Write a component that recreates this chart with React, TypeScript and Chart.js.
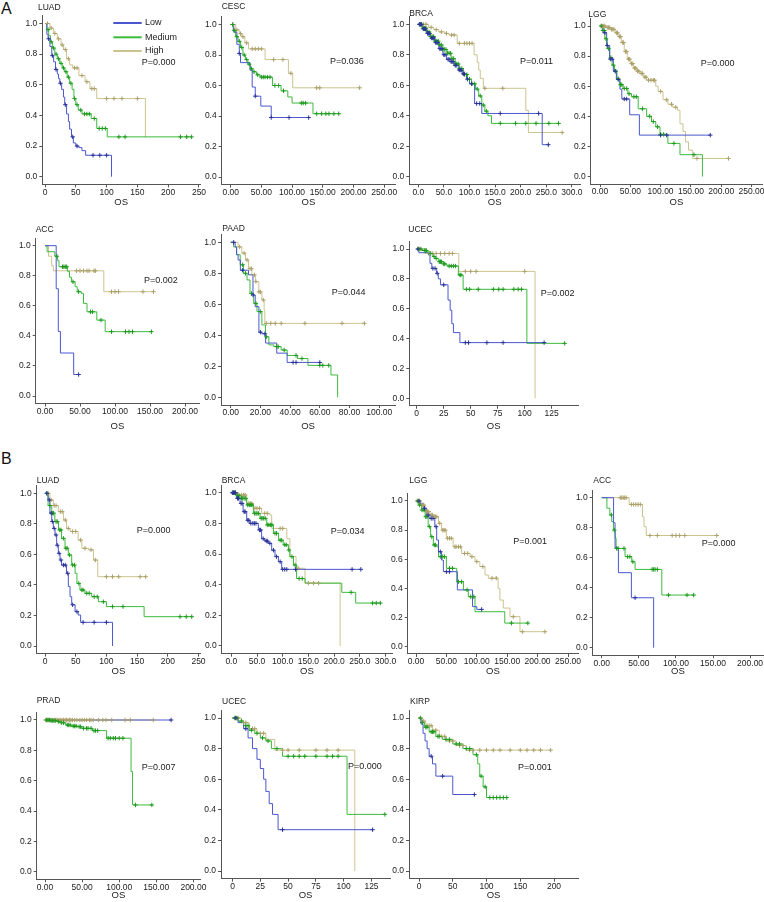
import React, { useEffect, useRef } from 'react';
import { Chart, registerables } from 'chart.js';
Chart.register(...registerables);

const FONT = '"Liberation Sans", Arial, Helvetica, sans-serif';
const TEXT = '#222222';
const AXIS = '#555555';
const LINE_COLORS = ['#4b57cf', '#3dbb3d', '#cdc38f'];
const CROSS_COLORS = ['#2b3496', '#1f9a1f', '#aca16a'];
const SERIES_NAMES = ['Low', 'Medium', 'High'];
const Y_TICKS = [0, 0.2, 0.4, 0.6, 0.8, 1.0];

// ---------- A: LUAD ----------
const aLuadLow = [[0,1],[3,0.93],[5,0.9],[8,0.85],[11,0.79],[14,0.75],[17,0.7],[20,0.67],[22,0.64],[24,0.61],[27,0.57],[30,0.52],[32,0.47],[35,0.41],[38,0.36],[40,0.31],[43,0.26],[46,0.22],[50,0.2],[55,0.19],[60,0.17],[66,0.14],[108,0]];
const aLuadLowC = [6,12,18,25,33,45,52,78,89,100];
const aLuadMed = [[0,1],[3,0.96],[6,0.92],[9,0.88],[12,0.84],[16,0.8],[20,0.77],[24,0.74],[28,0.71],[32,0.685],[36,0.65],[40,0.61],[44,0.57],[47,0.51],[50,0.47],[54,0.435],[60,0.41],[75,0.38],[84,0.315],[101,0.26],[238,0.26]];
const aLuadMedC = [5,10,14,18,22,26,30,34,38,42,48,52,58,64,68,72,80,88,93,98,120,130,220,230,238];
const aLuadHigh = [[0,1],[8,0.97],[14,0.935],[20,0.9],[26,0.86],[30,0.83],[35,0.77],[40,0.73],[45,0.71],[55,0.66],[65,0.62],[73,0.575],[84,0.51],[163,0.255]];
const aLuadHighC = [4,10,16,22,28,33,38,48,52,60,68,76,80,100,112,125,150];
const aLuadX = [0,50,100,150,200,250];

// ---------- A: CESC ----------
const aCescLow = [[0,1],[5,0.95],[10,0.87],[14,0.81],[16,0.75],[31.5,0.7],[35,0.59],[40,0.53],[49,0.465],[66,0.39],[127,0.39]];
const aCescLowC = [14,40,66,95,127];
const aCescMed = [[0,1],[4,0.96],[8,0.92],[12,0.89],[16,0.85],[20,0.8],[24,0.77],[28,0.74],[32,0.71],[36,0.69],[42,0.67],[48,0.655],[68,0.6],[82,0.565],[93,0.525],[100,0.485],[134,0.415],[176,0.415]];
const aCescMedC = [3,6,10,14,18,22,26,30,34,38,44,50,53,56,60,64,72,78,86,115,118,122,140,148,155,160,168,176];
const aCescHigh = [[0,1],[8,0.965],[14,0.94],[18,0.92],[23,0.88],[29,0.84],[56,0.77],[94,0.68],[101,0.585],[210,0.585]];
const aCescHighC = [4,10,16,20,26,35,40,45,50,70,85,98,140,145,210];
const aCescX = [0,50,100,150,200,250];

// ---------- A: BRCA ----------
const aBrcaLow = [[0,1],[8,0.97],[16,0.94],[24,0.91],[32,0.88],[40,0.84],[48,0.8],[55,0.77],[62,0.755],[70,0.73],[78,0.7],[86,0.675],[94,0.64],[100,0.61],[110,0.48],[124,0.415],[242,0.21],[254,0.21]];
const aBrcaLowC = [2,4,6,10,12,14,18,20,22,26,28,30,34,36,38,42,44,46,50,52,58,60,64,66,68,72,74,80,82,84,88,90,96,104,114,120,160,235,254];
const aBrcaMed = [[0,1],[8,0.975],[16,0.95],[24,0.92],[32,0.89],[40,0.865],[48,0.835],[56,0.81],[64,0.775],[72,0.74],[80,0.71],[88,0.67],[96,0.64],[104,0.61],[112,0.575],[118,0.53],[124,0.47],[130,0.43],[136,0.4],[143,0.35],[274,0.35]];
const aBrcaMedC = [3,6,9,12,15,18,21,24,27,30,33,36,39,42,45,48,51,54,57,60,63,66,69,72,75,78,81,85,90,95,100,105,110,115,121,127,133,160,190,210,230,255,274];
const aBrcaHigh = [[0,1],[20,0.98],[30,0.965],[40,0.95],[52,0.94],[60,0.93],[76,0.875],[109,0.8],[115,0.75],[118,0.7],[121,0.645],[127,0.58],[210,0.435],[215,0.29],[281,0.29]];
const aBrcaHighC = [5,10,15,25,35,45,55,65,70,80,90,95,100,105,130,165,281];
const aBrcaX = [0,50,100,150,200,250,300];

// ---------- A: LGG ----------
const aLggLow = [[0,1],[5,0.955],[11,0.87],[16,0.78],[22,0.7],[27,0.645],[33,0.58],[36,0.515],[49,0.41],[65,0.275],[182,0.275]];
const aLggLowC = [8,12,17,20,25,30,40,44,100,110,182];
const aLggMed = [[0,1],[4,0.97],[8,0.915],[12,0.85],[16,0.79],[20,0.74],[24,0.7],[28,0.65],[32,0.61],[38,0.585],[46,0.55],[52,0.53],[63,0.45],[77,0.4],[85,0.365],[92,0.33],[99,0.28],[112,0.22],[132,0.145],[169,0]];
const aLggMedC = [2,5,7,10,14,18,22,26,30,34,36,40,44,48,56,60,70,82,88,95,100,105,122,155];
const aLggHigh = [[0,1],[10,0.99],[17,0.978],[25,0.955],[30,0.93],[35,0.89],[40,0.83],[45,0.78],[50,0.75],[55,0.72],[60,0.7],[66,0.685],[72,0.66],[77,0.64],[92,0.6],[96,0.565],[104,0.51],[112,0.48],[120,0.46],[128,0.44],[132,0.35],[137,0.3],[141,0.23],[146,0.175],[153,0.12],[212,0.12]];
const aLggHighC = [2,4,6,8,12,14,16,19,21,23,27,29,32,34,37,39,42,44,47,49,52,54,57,59,62,64,68,70,74,76,80,84,88,90,100,110,118,125,160,212];
const aLggX = [0,50,100,150,200,250];

// ---------- A: ACC ----------
const aAccLow = [[0,1],[16,0.714],[19,0.429],[22,0.286],[41,0.143],[48,0.143]];
const aAccLowC = [48];
const aAccMed = [[0,1],[3,0.96],[14,0.93],[18,0.9],[20,0.86],[32,0.83],[35,0.79],[38,0.76],[43,0.727],[46,0.694],[52,0.683],[55,0.616],[60,0.56],[74,0.505],[86,0.428],[152,0.428]];
const aAccMedC = [17,25,27,29,31,40,48,65,68,80,95,115,120,125,152];
const aAccHigh = [[0,1],[5,0.93],[9.5,0.866],[12,0.833],[84,0.694],[155,0.694]];
const aAccHighC = [45,50,55,60,63,70,72,95,100,105,140,155];
const aAccX = [0,50,100,150,200];

// ---------- A: PAAD ----------
const aPaadLow = [[0,1],[3,0.97],[4,0.92],[5,0.886],[6.5,0.82],[12,0.79],[15,0.66],[16.5,0.585],[19,0.42],[21,0.41],[23.5,0.35],[31,0.285],[38,0.225],[60,0.225]];
const aPaadLowC = [2,8,15,20,23,42,44,60];
const aPaadMed = [[0,1],[2,0.97],[4,0.92],[6.4,0.855],[8.6,0.8],[11,0.757],[13,0.67],[15.5,0.606],[17.7,0.553],[21,0.467],[23.4,0.39],[25.7,0.338],[29,0.327],[34,0.305],[38,0.27],[45,0.25],[52,0.206],[67.5,0.144],[72,0]];
const aPaadMedC = [8,10,14,17,20,24,31,32,36,44,48,60,62,66];
const aPaadHigh = [[0,1],[5,0.97],[7.5,0.93],[10,0.886],[12,0.83],[14.3,0.79],[16.6,0.746],[18.9,0.68],[21,0.628],[22.5,0.563],[23,0.477],[90,0.477]];
const aPaadHighC = [6,9,11,13,14,16,17,19,20,22,24,27,30,34,50,75,90];
const aPaadX = [0,20,40,60,80,100];

// ---------- A: UCEC ----------
const aUcecLow = [[0,1],[2,0.975],[11,0.96],[12.3,0.904],[14,0.87],[18.5,0.837],[20,0.8],[22,0.76],[29,0.658],[31,0.59],[32.5,0.5],[34,0.44],[40,0.373],[118,0.373]];
const aUcecLowC = [1,15,17,19,25,45,48,65,80,118];
const aUcecMed = [[0,1],[5,0.99],[10,0.982],[12.3,0.97],[15,0.95],[17,0.937],[20,0.915],[24.7,0.9],[28,0.886],[38.6,0.826],[43,0.73],[102,0.368],[137,0.368]];
const aUcecMedC = [2,4,7,8,9,13,16,18,21,22,23,25,26,30,32,34,36,40,41,46,49,57,71,76,80,90,94,97,137];
const aUcecHigh = [[0,1],[7.7,0.97],[39,0.85],[109.6,0]];
const aUcecHighC = [2,3,12,15,18,22,26,30,33,45,50,55,100];
const aUcecX = [0,25,50,75,100,125];

// ---------- B: LUAD ----------
const bLuadLow = [[0,1],[5,0.956],[8,0.87],[11,0.815],[13.6,0.77],[16.3,0.727],[19,0.66],[21.7,0.607],[24.5,0.563],[27,0.53],[35,0.476],[38,0.39],[40.8,0.323],[43.5,0.27],[49,0.225],[54,0.203],[58,0.155],[110,0]];
const bLuadLowC = [3,7,10,12,15,18,20,23,26,30,33,37,45,52,62,80,100];
const bLuadMed = [[0,1],[5,0.92],[11,0.87],[16,0.815],[22,0.76],[27,0.705],[32.6,0.64],[38,0.596],[43.5,0.53],[49,0.476],[52,0.41],[57,0.367],[65,0.345],[76,0.323],[87,0.29],[100,0.258],[161.4,0.192],[239,0.192]];
const bLuadMedC = [3,8,12,14,18,20,24,26,30,34,36,40,45,48,55,60,62,68,72,80,85,95,110,127,220,230,239];
const bLuadHigh = [[0,1],[8,0.956],[13.6,0.92],[21.7,0.88],[30,0.825],[35,0.77],[41,0.75],[54,0.694],[60,0.64],[71,0.63],[79,0.563],[86,0.454],[164,0.454]];
const bLuadHighC = [5,10,15,18,25,28,33,38,45,50,58,65,75,82,100,110,120,155,164];
const bLuadX = [0,50,100,150,200,250];

// ---------- B: BRCA ----------
const bBrcaLow = [[0,1],[10,0.963],[17,0.93],[23,0.876],[30,0.82],[36,0.8],[52.6,0.757],[59,0.7],[65,0.685],[72,0.67],[78.6,0.625],[85,0.583],[91.6,0.55],[98,0.5],[252,0.5]];
const bBrcaLowC = [2,4,6,8,12,14,19,21,25,27,32,34,38,42,45,48,55,57,62,68,70,75,82,88,95,100,104,108,125,235,252];
const bBrcaMed = [[0,1],[10,0.98],[17,0.963],[30,0.92],[43,0.865],[56,0.833],[69,0.79],[82,0.735],[92,0.69],[101,0.66],[111,0.626],[114,0.583],[121,0.528],[127,0.44],[143.5,0.41],[215,0.35],[242,0.28],[290,0.28]];
const bBrcaMedC = [3,5,8,12,15,20,22,25,28,32,35,38,40,45,48,50,53,58,60,63,66,70,73,76,79,85,88,95,98,104,107,112,118,124,132,138,233,275,282,290];
const bBrcaHigh = [[0,1],[10,0.99],[17,0.985],[30,0.93],[43,0.898],[59,0.865],[75,0.854],[78.6,0.767],[108,0.7],[114,0.583],[126,0.507],[143.5,0.41],[211.7,0]];
const bBrcaHighC = [5,8,13,20,24,27,34,37,40,46,50,55,65,70,95,100,130,150,160,170];
const bBrcaX = [0,50,100,150,200,250,300];

// ---------- B: LGG ----------
const bLggLow = [[0,1],[7,0.984],[12,0.95],[17.5,0.904],[23,0.88],[31,0.824],[34,0.732],[37,0.652],[42,0.595],[45,0.515],[68,0.39],[93,0.275],[100,0.256],[108,0.256]];
const bLggLowC = [5,14,20,25,28,33,40,50,55,108];
const bLggMed = [[0,1],[4,0.972],[9,0.938],[15,0.892],[20,0.824],[24,0.755],[28.5,0.698],[34,0.686],[37,0.618],[50,0.538],[67,0.446],[78,0.39],[86,0.343],[97,0.24],[146,0.162],[184,0.162]];
const bLggMedC = [3,6,10,13,16,18,22,26,30,32,40,44,47,55,60,70,75,84,90,95,157,184];
const bLggHigh = [[0,1],[7,0.972],[15,0.927],[23,0.904],[28.5,0.892],[37,0.847],[42,0.8],[50,0.744],[61,0.686],[75,0.64],[89,0.618],[97,0.584],[105,0.55],[113.5,0.492],[119,0.47],[135,0.4],[138,0.32],[143.6,0.265],[154.6,0.206],[171,0.103],[212,0.103]];
const bLggHighC = [2,4,6,9,11,13,17,19,21,25,27,30,32,34,39,44,46,48,52,55,58,64,66,70,73,80,85,92,100,110,125,132,160,175,212];
const bLggX = [0,50,100,150,200,250];

// ---------- B: ACC ----------
const bAccLow = [[0,1],[16,0.833],[18,0.667],[22.5,0.5],[40,0.333],[70,0]];
const bAccLowC = [45];
const bAccMed = [[0,1],[3,1],[7,0.93],[11,0.885],[13.5,0.84],[16,0.784],[18,0.73],[19.4,0.662],[31.5,0.607],[40.5,0.573],[45,0.522],[81,0.351],[124,0.351]];
const bAccMedC = [13,17,20,22,30,35,38,42,68,70,72,75,90,115,124];
const bAccHigh = [[0,1],[37,0.955],[55,0.873],[57,0.807],[60,0.748],[155,0.748]];
const bAccHighC = [25,27,29,31,33,40,43,46,49,52,65,75,95,100,105,112,155];
const bAccX = [0,50,100,150,200];

// ---------- B: PRAD ----------
const bPradLow = [[0,1],[170,1]];
const bPradLowC = [170];
const bPradMed = [[0,1],[7,0.996],[16,0.99],[20,0.982],[27,0.974],[29,0.967],[35,0.96],[43,0.956],[49.5,0.945],[64,0.93],[83,0.88],[116,0.66],[118,0.44],[144,0.44]];
const bPradMedC = [2,4,6,8,10,12,14,18,22,25,30,32,34,38,40,42,46,48,52,56,58,62,66,68,71,85,88,92,95,100,105,122,144];
const bPradHigh = [[0,1],[146,1]];
const bPradHighC = [1,3,5,7,9,11,13,15,17,19,21,23,25,27,29,31,33,35,37,40,43,47,50,53,56,60,62,65,72,78,82,90,108,115,146];
const bPradX = [0,50,100,150,200];

// ---------- B: UCEC ----------
const bUcecLow = [[0,1],[5,0.97],[10,0.93],[14,0.87],[18,0.8],[22,0.73],[25,0.67],[28,0.6],[30,0.52],[33,0.44],[36,0.37],[41,0.27],[126,0.27]];
const bUcecLowC = [3,12,45,126];
const bUcecMed = [[0,1],[5,0.98],[10,0.95],[15,0.92],[20,0.9],[25,0.87],[30,0.85],[35,0.8],[45,0.75],[103,0.37],[137,0.37]];
const bUcecMedC = [2,4,8,12,14,17,22,27,32,40,50,55,60,65,75,85,90,95,137];
const bUcecHigh = [[0,1],[8,0.97],[15,0.93],[22,0.9],[30,0.86],[38,0.79],[110,0]];
const bUcecHighC = [3,5,10,12,18,20,25,28,45,50,60,75,85,95];
const bUcecX = [0,25,50,75,100,125];

// ---------- B: KIRP ----------
const bKirpLow = [[0,1],[3,0.96],[6,0.9],[9,0.85],[12,0.8],[15,0.75],[20,0.7],[25,0.62],[50,0.5],[82,0.5]];
const bKirpLowC = [18,35,82];
const bKirpMed = [[0,1],[3,0.97],[8,0.94],[15,0.91],[25,0.88],[35,0.86],[50,0.83],[65,0.8],[80,0.76],[87,0.7],[90,0.62],[95,0.55],[100,0.48],[130,0.48]];
const bKirpMedC = [2,5,10,12,18,20,22,28,30,40,45,55,60,70,75,85,92,98,105,110,115,120,125,130];
const bKirpHigh = [[0,1],[5,0.98],[10,0.95],[20,0.92],[30,0.88],[40,0.85],[55,0.82],[70,0.79],[195,0.79]];
const bKirpHighC = [2,7,12,15,18,25,33,38,45,50,60,65,75,80,90,100,110,120,135,150,160,170,180,195];
const bKirpX = [0,50,100,150,200];

const TITLES = ['LUAD','CESC','BRCA','LGG','ACC','PAAD','UCEC','LUAD','BRCA','LGG','ACC','PRAD','UCEC','KIRP'];
const PVALUES = ['P=0.000','P=0.036','P=0.011','P=0.000','P=0.002','P=0.044','P=0.002','P=0.000','P=0.034','P=0.001','P=0.000','P=0.007','P=0.000','P=0.001'];

type Curve = number[][];
interface PanelSpec {
  series: [Curve, number[]][];
  xTicks: number[]; dec: number;
  axLeft: number; y1: number; y0: number; x0px: number; pxUnit: number; plotRight: number;
  osY: number; tx: number; ty: number; px: number; py: number; legend?: boolean;
}

const PANELS: PanelSpec[] = [
  { series: [[aLuadLow, aLuadLowC], [aLuadMed, aLuadMedC], [aLuadHigh, aLuadHighC]], xTicks: aLuadX, dec: 0,
    axLeft: 42.3, y1: 23.5, y0: 176.7, x0px: 45, pxUnit: 30.8 / 50, plotRight: 200, osY: 202, tx: 38, ty: 7.5, px: 141.7, py: 63, legend: true },
  { series: [[aCescLow, aCescLowC], [aCescMed, aCescMedC], [aCescHigh, aCescHighC]], xTicks: aCescX, dec: 2,
    axLeft: 221.7, y1: 24.5, y0: 177, x0px: 230.7, pxUnit: 30.7 / 50, plotRight: 395, osY: 202, tx: 221.7, ty: 6.5, px: 330, py: 61.7 },
  { series: [[aBrcaLow, aBrcaLowC], [aBrcaMed, aBrcaMedC], [aBrcaHigh, aBrcaHighC]], xTicks: aBrcaX, dec: 1,
    axLeft: 409.3, y1: 24.3, y0: 176.7, x0px: 418.3, pxUnit: 25.6 / 50, plotRight: 580, osY: 202, tx: 409.3, ty: 13.3, px: 520, py: 61.7 },
  { series: [[aLggLow, aLggLowC], [aLggMed, aLggMedC], [aLggHigh, aLggHighC]], xTicks: aLggX, dec: 2,
    axLeft: 590.7, y1: 26, y0: 176.5, x0px: 600, pxUnit: 30.3 / 50, plotRight: 762, osY: 202, tx: 588.3, ty: 15, px: 700.7, py: 63.3 },
  { series: [[aAccLow, aAccLowC], [aAccMed, aAccMedC], [aAccHigh, aAccHighC]], xTicks: aAccX, dec: 2,
    axLeft: 35.7, y1: 245.7, y0: 396, x0px: 45, pxUnit: 35 / 50, plotRight: 199, osY: 426, tx: 35.7, ty: 229.3, px: 144, py: 280.7 },
  { series: [[aPaadLow, aPaadLowC], [aPaadMed, aPaadMedC], [aPaadHigh, aPaadHighC]], xTicks: aPaadX, dec: 2,
    axLeft: 221, y1: 242.3, y0: 397.3, x0px: 230.7, pxUnit: 29.7 / 20, plotRight: 395, osY: 426, tx: 222.3, ty: 228.3, px: 331.7, py: 292.7 },
  { series: [[aUcecLow, aUcecLowC], [aUcecMed, aUcecMedC], [aUcecHigh, aUcecHighC]], xTicks: aUcecX, dec: 0,
    axLeft: 409.3, y1: 249, y0: 398.3, x0px: 416.7, pxUnit: 27 / 25, plotRight: 578, osY: 426, tx: 408.3, ty: 229.3, px: 540.7, py: 293.3 },
  { series: [[bLuadLow, bLuadLowC], [bLuadMed, bLuadMedC], [bLuadHigh, bLuadHighC]], xTicks: bLuadX, dec: 0,
    axLeft: 36.7, y1: 493.3, y0: 646, x0px: 45, pxUnit: 30.7 / 50, plotRight: 200, osY: 671, tx: 36.7, ty: 481, px: 136.7, py: 531 },
  { series: [[bBrcaLow, bBrcaLowC], [bBrcaMed, bBrcaMedC], [bBrcaHigh, bBrcaHighC]], xTicks: bBrcaX, dec: 1,
    axLeft: 221.7, y1: 492.7, y0: 646, x0px: 231.3, pxUnit: 25.7 / 50, plotRight: 392, osY: 671, tx: 221.7, ty: 481, px: 330.7, py: 531.7 },
  { series: [[bLggLow, bLggLowC], [bLggMed, bLggMedC], [bLggHigh, bLggHighC]], xTicks: bLggX, dec: 2,
    axLeft: 407.7, y1: 501, y0: 646.7, x0px: 416, pxUnit: 30.4 / 50, plotRight: 578, osY: 671, tx: 409.3, ty: 481, px: 513.3, py: 541.7 },
  { series: [[bAccLow, bAccLowC], [bAccMed, bAccMedC], [bAccHigh, bAccHighC]], xTicks: bAccX, dec: 2,
    axLeft: 592.7, y1: 497.7, y0: 647.7, x0px: 601.7, pxUnit: 37.1 / 50, plotRight: 763, osY: 671, tx: 593.3, ty: 481, px: 701.7, py: 543.3 },
  { series: [[bPradLow, bPradLowC], [bPradMed, bPradMedC], [bPradHigh, bPradHighC]], xTicks: bPradX, dec: 2,
    axLeft: 36.7, y1: 720, y0: 871.7, x0px: 45, pxUnit: 37.1 / 50, plotRight: 200, osY: 895, tx: 36.7, ty: 701, px: 141.7, py: 767.7 },
  { series: [[bUcecLow, bUcecLowC], [bUcecMed, bUcecMedC], [bUcecHigh, bUcecHighC]], xTicks: bUcecX, dec: 0,
    axLeft: 221, y1: 718, y0: 871, x0px: 232.5, pxUnit: 27.8 / 25, plotRight: 390, osY: 895, tx: 222, ty: 702, px: 348, py: 767 },
  { series: [[bKirpLow, bKirpLowC], [bKirpMed, bKirpMedC], [bKirpHigh, bKirpHighC]], xTicks: bKirpX, dec: 0,
    axLeft: 409, y1: 718, y0: 871, x0px: 419, pxUnit: 33.75 / 50, plotRight: 578, osY: 895, tx: 410, ty: 702, px: 518, py: 768 },
];

function survAt(curve: Curve, t: number): number {
  let s = 1;
  for (const [ti, si] of curve) { if (ti <= t) s = si; else break; }
  return s;
}

const annotPlugin = {
  id: 'annot',
  afterDraw(chart: any, _a: any, o: any) {
    const ctx = chart.ctx;
    ctx.save();
    ctx.fillStyle = TEXT;
    ctx.textBaseline = 'middle';
    ctx.textAlign = 'left';
    ctx.font = `8.5px ${FONT}`;
    ctx.fillText(o.title, o.tx, o.ty);
    ctx.font = `9px ${FONT}`;
    ctx.fillText(o.p, o.px, o.py);
    if (o.legend) {
      const ys = [23, 37.3, 51];
      SERIES_NAMES.forEach((name: string, i: number) => {
        const y = ys[i] - o.offY;
        ctx.strokeStyle = LINE_COLORS[i];
        ctx.lineWidth = 2;
        ctx.beginPath();
        ctx.moveTo(113.3 - o.offX, y);
        ctx.lineTo(141.7 - o.offX, y);
        ctx.stroke();
        ctx.fillStyle = TEXT;
        ctx.fillText(name, 145 - o.offX, y);
      });
    }
    ctx.restore();
  },
};

const YW = 26;

function KMPanel({ spec, idx }: { spec: PanelSpec; idx: number }) {
  const ref = useRef<HTMLCanvasElement>(null);
  const yr = spec.y0 - spec.y1;
  const yTop = spec.y1 - 0.05 * yr;
  const axBottom = spec.y0 + 0.05 * yr;
  const xmin = (spec.axLeft - spec.x0px) / spec.pxUnit;
  const xmax = (spec.plotRight - spec.x0px) / spec.pxUnit;
  const cLeft = Math.floor(spec.axLeft - YW - 2);
  const cTop = Math.floor(Math.min(yTop, spec.ty - 6) - 4);
  const cRight = Math.ceil(spec.plotRight + 16);
  const cBottom = Math.ceil(spec.osY + 7.5);
  const W = cRight - cLeft;
  const H = cBottom - cTop;

  useEffect(() => {
    if (!ref.current) return;
    const XH = cBottom - axBottom;
    const titlePadBottom = cBottom - spec.osY - 5.7;
    const datasets: any[] = [];
    spec.series.forEach(([curve, cens], i) => {
      datasets.push({
        type: 'line',
        label: SERIES_NAMES[i],
        data: curve.map(([x, y]) => ({ x, y })),
        stepped: 'before',
        borderColor: LINE_COLORS[i],
        borderWidth: 1,
        pointRadius: 0,
        fill: false,
        order: 2,
      });
      datasets.push({
        type: 'line',
        label: SERIES_NAMES[i] + ' censored',
        data: cens.map((t) => ({ x: t, y: survAt(curve, t) })),
        showLine: false,
        pointStyle: 'cross',
        pointRadius: 2.2,
        pointBorderWidth: 1,
        pointBorderColor: CROSS_COLORS[i],
        pointBackgroundColor: CROSS_COLORS[i],
        order: 1,
      });
    });
    const tickFont = { size: 8.5, family: FONT };
    const chart = new Chart(ref.current, {
      type: 'line',
      data: { datasets },
      options: {
        animation: false,
        responsive: false,
        events: [],
        layout: { padding: { left: spec.axLeft - cLeft - YW, top: yTop - cTop, right: cRight - spec.plotRight, bottom: 0 } },
        plugins: {
          legend: { display: false },
          tooltip: { enabled: false },
          annot: {
            title: TITLES[idx], p: PVALUES[idx],
            tx: spec.tx - cLeft, ty: spec.ty - cTop, px: spec.px - cLeft, py: spec.py - cTop,
            legend: !!spec.legend, offX: cLeft, offY: cTop,
          },
        } as any,
        scales: {
          x: {
            type: 'linear', min: xmin, max: xmax,
            afterBuildTicks: (s: any) => { s.ticks = spec.xTicks.map((v) => ({ value: v })); },
            afterFit: (s: any) => { s.height = XH; },
            ticks: { callback: (v: any) => Number(v).toFixed(spec.dec), font: tickFont, color: TEXT, padding: 0, maxRotation: 0, autoSkip: false },
            grid: { drawOnChartArea: false, drawTicks: true, tickLength: 3, color: AXIS },
            border: { display: true, color: AXIS, width: 1 },
            title: { display: true, text: 'OS', font: { size: 9.5, family: FONT }, color: TEXT, padding: { top: 0, bottom: titlePadBottom } },
          },
          y: {
            type: 'linear', min: -0.05, max: 1.05,
            afterBuildTicks: (s: any) => { s.ticks = Y_TICKS.map((v) => ({ value: v })); },
            afterFit: (s: any) => { s.width = YW; },
            ticks: { callback: (v: any) => Number(v).toFixed(1), font: tickFont, color: TEXT, padding: 2, autoSkip: false },
            grid: { drawOnChartArea: false, drawTicks: true, tickLength: 3, color: AXIS },
            border: { display: true, color: AXIS, width: 1 },
          },
        },
      } as any,
      plugins: [annotPlugin as any],
    });
    return () => chart.destroy();
  }, []);

  return (
    <canvas
      ref={ref}
      width={W}
      height={H}
      style={{ position: 'absolute', left: cLeft, top: cTop, width: W, height: H, display: 'block' }}
    />
  );
}

const letterStyle: React.CSSProperties = {
  position: 'absolute', left: 1, fontFamily: FONT, fontSize: 16, lineHeight: '16px', color: '#111',
};

export default function App() {
  return (
    <div style={{ position: 'absolute', left: 0, top: 0, width: 764, height: 902, background: '#ffffff', overflow: 'hidden' }}>
      <div style={{ ...letterStyle, top: 1.3 }}>A</div>
      <div style={{ ...letterStyle, top: 450.7 }}>B</div>
      {PANELS.map((p, i) => (
        <KMPanel key={i} spec={p} idx={i} />
      ))}
    </div>
  );
}
